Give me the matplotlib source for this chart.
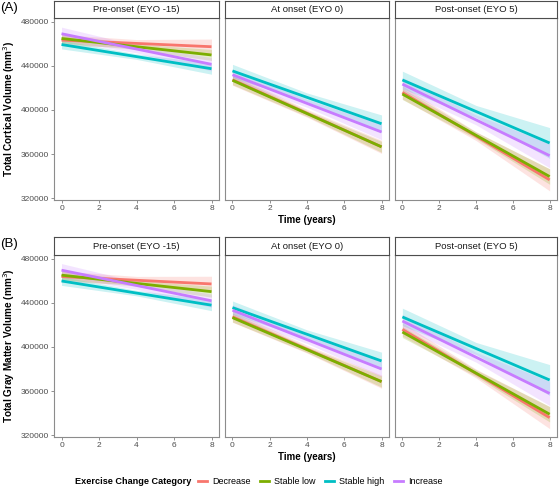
import matplotlib
matplotlib.use("Agg")
import matplotlib.pyplot as plt
from matplotlib.lines import Line2D
import numpy as np

plt.rcParams['font.family'] = ['Liberation Sans', 'DejaVu Sans']

categories = ["Decrease", "Stable low", "Stable high", "Increase"]
colors = ["#F8766D", "#7CAE00", "#00BFC4", "#C77CFF"]
facets = ["Pre-onset (EYO -15)", "At onset (EYO 0)", "Post-onset (EYO 5)"]
time_points = [0, 4, 8]
x_ticks = [0, 2, 4, 6, 8]
y_ticks = [320000, 360000, 400000, 440000, 480000]

# Fitted values at time 0 and time 8, per facet, per category
cortical_start = [
    [463500, 465000, 459500, 469300],
    [427500, 427000, 435500, 432000],
    [416000, 414500, 427300, 423500],
]
cortical_end = [
    [457500, 450000, 437500, 441500],
    [366500, 366500, 387500, 380000],
    [336500, 339500, 370000, 358500],
]
gray_start = [
    [464000, 465300, 460000, 469800],
    [427500, 426700, 435800, 433400],
    [416000, 413600, 427300, 423600],
]
gray_end = [
    [457300, 450300, 438000, 442000],
    [368500, 368500, 387300, 380000],
    [335800, 338900, 370000, 357800],
]
# Confidence band half-widths at time 0, 4, 8
ci_half = [
    [[5000, 3500, 7000], [4000, 2500, 5000], [4000, 2500, 5000], [6000, 3500, 6000]],
    [[5000, 3500, 6000], [4000, 2500, 5000], [6000, 4000, 8000], [5000, 3500, 7000]],
    [[6000, 4000, 10000], [5000, 3000, 7000], [8000, 5500, 14000], [6000, 4500, 11000]],
]

W, H = 560, 488
fig = plt.figure(figsize=(W / 100, H / 100), dpi=100)

cols = [(54, 219), (225, 389), (395, 557)]
rows = [dict(strip=(1, 18), panel=(18, 200), label="(A)",
             ylabel="Total Cortical Volume (mm$^3$)", start=cortical_start, end=cortical_end),
        dict(strip=(237, 255), panel=(255, 437), label="(B)",
             ylabel="Total Gray Matter Volume (mm$^3$)", start=gray_start, end=gray_end)]

def frac(x0, x1, y0, y1):
    return [x0 / W, 1 - y1 / H, (x1 - x0) / W, (y1 - y0) / H]

tick_col = "#4D4D4D"
for r, row in enumerate(rows):
    for f, (x0, x1) in enumerate(cols):
        ax = fig.add_axes(frac(x0, x1, *row["panel"]))
        for c in range(len(categories)):
            s = row["start"][f][c]
            e = row["end"][f][c]
            t = np.array(time_points, dtype=float)
            yv = s + (e - s) * t / 8.0
            hw = np.array(ci_half[f][c], dtype=float)
            ax.fill_between(t, yv - hw, yv + hw, color=colors[c], alpha=0.2, linewidth=0)
            ax.plot([0, 8], [s, e], color=colors[c], lw=2.0, solid_capstyle='butt')
        ax.set_xlim(-0.4, 8.4)
        ax.set_ylim(318200, 483600)
        ax.set_xticks(x_ticks)
        ax.set_yticks(y_ticks)
        ax.tick_params(axis='both', labelsize=6.0, colors="#7f7f7f", labelcolor=tick_col,
                       length=2, width=0.6, pad=1.5)
        if f == 0:
            ax.set_yticklabels([str(v) for v in y_ticks])
            ax.set_ylabel(row["ylabel"], fontsize=7.2, fontweight='bold', labelpad=3)
        else:
            ax.set_yticklabels([])
            ax.tick_params(axis='y', length=0)
        for sp in ax.spines.values():
            sp.set_color("#8c8c8c")
            sp.set_linewidth(0.8)
        if f == 1:
            ax.set_xlabel("Time (years)", fontsize=7.0, fontweight='bold', labelpad=2)
        # strip
        sax = fig.add_axes(frac(x0, x1, *row["strip"]))
        sax.set_xticks([])
        sax.set_yticks([])
        sax.set_facecolor("white")
        for sp in sax.spines.values():
            sp.set_color("#4d4d4d")
            sp.set_linewidth(0.8)
        sax.text(0.5, 0.5, facets[f], ha='center', va='center', fontsize=6.8,
                 color="#1a1a1a", transform=sax.transAxes)
    fig.text(0 / W, 1 - (row["strip"][0] + 7) / H, row["label"], fontsize=9.5,
             ha='left', va='center')

handles = [Line2D([0], [0], color=colors[c], lw=2.0) for c in range(len(categories))]
fig.text(191 / W, 1 - 482 / H, "Exercise Change Category", fontsize=6.6,
         fontweight='bold', ha='right', va='center')
fig.legend(handles, categories, loc='center left', bbox_to_anchor=(198 / W, 1 - 482 / H),
           ncol=4, frameon=False, fontsize=6.5, handlelength=1.0, handletextpad=0.6,
           columnspacing=1.0, borderaxespad=0, borderpad=0)

fig.savefig("out.png", dpi=100)
